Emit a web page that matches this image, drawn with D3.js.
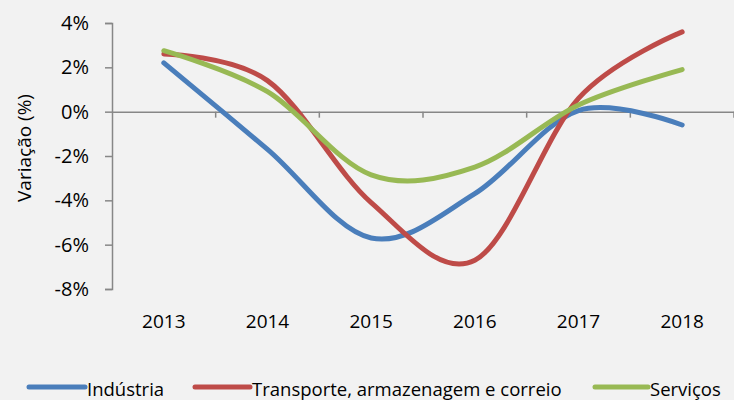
<!DOCTYPE html>
<html>
<head>
<meta charset="utf-8">
<script src="https://cdn.jsdelivr.net/npm/d3@7"></script>
<style>
  html, body { margin: 0; padding: 0; background: #f2f2f2; }
  svg { display: block; font-family: "Open Sans", sans-serif; }
</style>
</head>
<body>
<script>
// chart values
var years = ["2013", "2014", "2015", "2016", "2017", "2018"];
var industria = [2.2, -1.7, -5.7, -3.7, 0.05, -0.6];
var transporte = [2.6, 1.4, -4.1, -6.7, 0.6, 3.6];
var servicos = [2.75, 0.9, -2.85, -2.5, 0.3, 1.9];
var yTicks = [4, 2, 0, -2, -4, -6, -8];

var series = [
  { name: "Indústria", values: industria, color: "#4a7ebb" },
  { name: "Transporte, armazenagem e correio", values: transporte, color: "#be4b48" },
  { name: "Serviços", values: servicos, color: "#98b954" }
];

var w = 734, h = 400;

var svg = d3.select("body").append("svg")
  .attr("width", w)
  .attr("height", h);

// scales
var x = d3.scaleBand().domain(years).range([112, 734]);
var y = d3.scaleLinear().domain([-8, 4]).range([289, 23]);

// y axis
var yAxis = svg.append("g")
  .attr("transform", "translate(112,0)")
  .call(d3.axisLeft(y).tickValues(yTicks).tickSize(7).tickPadding(16)
    .tickFormat(function(d){ return d + "%"; }));
yAxis.select(".domain").attr("stroke", "#878787").attr("stroke-width", 1.5);
yAxis.selectAll(".tick line").attr("stroke", "#878787").attr("stroke-width", 1.5);
yAxis.selectAll(".tick text")
  .attr("fill", "#000")
  .style("font-size", "20px")
  .style("font-family", "Open Sans");

// x axis along zero line
var xAxis = svg.append("g")
  .attr("transform", "translate(0," + y(0) + ")")
  .call(d3.axisBottom(x).tickSize(0).tickFormat(""));
xAxis.select(".domain").attr("stroke", "#878787").attr("stroke-width", 1.5);

// band boundary ticks
svg.append("g").selectAll("line")
  .data(years)
  .enter().append("line")
  .attr("x1", function(d){ return x(d) + x.bandwidth(); })
  .attr("x2", function(d){ return x(d) + x.bandwidth(); })
  .attr("y1", y(0))
  .attr("y2", y(0) + 6)
  .attr("stroke", "#878787")
  .attr("stroke-width", 1.5);

// year labels below the plot
svg.append("g").selectAll("text")
  .data(years)
  .enter().append("text")
  .attr("x", function(d){ return x(d) + x.bandwidth() / 2; })
  .attr("y", 328)
  .attr("text-anchor", "middle")
  .style("font-size", "19px")
  .text(function(d){ return d; });

// y title
svg.append("text")
  .attr("transform", "translate(31,148) rotate(-90)")
  .attr("text-anchor", "middle")
  .style("font-size", "19px")
  .text("Variação (%)");

// lines
var line = d3.line()
  .x(function(d, i){ return x(years[i]) + x.bandwidth() / 2; })
  .y(function(d){ return y(d); })
  .curve(d3.curveCatmullRom.alpha(0));

svg.append("g").selectAll("path")
  .data(series)
  .enter().append("path")
  .attr("d", function(d){ return line(d.values); })
  .attr("fill", "none")
  .attr("stroke", function(d){ return d.color; })
  .attr("stroke-width", 5)
  .attr("stroke-linecap", "round");

// legend
var legendPos = [
  { x1: 29, x2: 85, tx: 87 },
  { x1: 195, x2: 250, tx: 252 },
  { x1: 595, x2: 648, tx: 650 }
];
var legend = svg.append("g").selectAll("g")
  .data(series)
  .enter().append("g");
legend.append("line")
  .attr("x1", function(d, i){ return legendPos[i].x1; })
  .attr("x2", function(d, i){ return legendPos[i].x2; })
  .attr("y1", 387).attr("y2", 387)
  .attr("stroke", function(d){ return d.color; })
  .attr("stroke-width", 5)
  .attr("stroke-linecap", "round");
legend.append("text")
  .attr("x", function(d, i){ return legendPos[i].tx; })
  .attr("y", 396)
  .style("font-size", "18.5px")
  .text(function(d){ return d.name; });
</script>
</body>
</html>
